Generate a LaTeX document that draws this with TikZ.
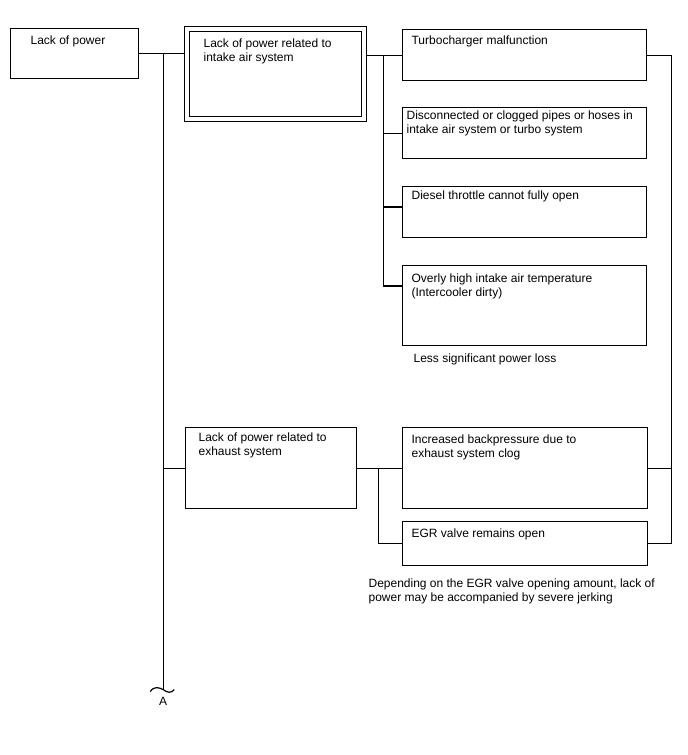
\documentclass[tikz,border=0pt]{standalone}
\usepackage{fontspec}
\setmainfont{Liberation Sans}
\usetikzlibrary{calc}
\begin{document}
\begin{tikzpicture}[x=1bp,y=-1bp,line width=1.2bp,
  box/.style={draw,rectangle,inner sep=0pt,anchor=north west},
  txt/.style={inner sep=0pt,anchor=north west,align=left,font=\fontsize{12bp}{14bp}\selectfont}]
\useasboundingbox (0,0) rectangle (688,755);
% boxes
\node[box,minimum width=128bp,minimum height=50bp] (b0) at (10,28) {};
\node[box,minimum width=182bp,minimum height=95bp] (b1o) at (184,26) {};
\node[box,minimum width=172bp,minimum height=85bp] (b1i) at (189,31) {};
\node[box,minimum width=244bp,minimum height=51bp] (turbo) at (402,29) {};
\node[box,minimum width=244bp,minimum height=51bp] (disc) at (402,107) {};
\node[box,minimum width=244bp,minimum height=51bp] (diesel) at (402,186) {};
\node[box,minimum width=244bp,minimum height=80bp] (over) at (402,265) {};
\node[box,minimum width=171bp,minimum height=81bp] (exh) at (185,427) {};
\node[box,minimum width=245bp,minimum height=81bp] (back) at (402,427) {};
\node[box,minimum width=245bp,minimum height=44bp] (egr) at (402,521) {};
% texts
\node[txt] (t0) at (30,35) {Lack of power};
\node[txt] (t1) at (203,38) {Lack of power related to\\intake air system};
\node[txt] (tturbo) at (411,35) {Turbocharger malfunction};
\node[txt] (tdisc) at (406,110) {Disconnected or clogged pipes or hoses in\\intake air system or turbo system};
\node[txt] (tdiesel) at (411,190) {Diesel throttle cannot fully open};
\node[txt] (tover) at (411,273) {Overly high intake air temperature\\(Intercooler dirty)};
\node[txt] (n1) at (413,353) {Less significant power loss};
\node[txt] (texh) at (198,432) {Lack of power related to\\exhaust system};
\node[txt] (tback) at (411,434) {Increased backpressure due to\\exhaust system clog};
\node[txt] (tegr) at (411,528) {EGR valve remains open};
\node[txt] (n2) at (368,578) {Depending on the EGR valve opening amount, lack of\\power may be accompanied by severe jerking};
% coordinates
\coordinate (j0) at ([xshift=24bp]b0.east);
\coordinate (tend) at ($(j0)+(0,636)$);
\coordinate (j1) at ([xshift=16bp]turbo.west -| b1o.east);
\coordinate (dieselj) at ([yshift=-21bp]diesel.north west);
\coordinate (overj) at ([yshift=-21bp]over.north west);
\coordinate (r1) at ([xshift=24bp]turbo.east);
\coordinate (j2) at ([xshift=21bp]exh.east);
% trunk
\draw (b0.east) -- (b0.east -| b1o.west);
\draw (j0) -- (tend);
\draw ($(tend)+(-13,2)$) .. controls ($(tend)+(-9,-4)$) and ($(tend)+(-4,-2)$) .. (tend)
      .. controls ($(tend)+(4,3)$) and ($(tend)+(8,4)$) .. ($(tend)+(11,0)$);
\node[txt,anchor=north] (A) at ([yshift=-7bp]tend) {A};
% intake branch
\draw (turbo.west -| b1o.east) -- (turbo.west);
\draw (j1) -- (j1 |- overj) -- (overj);
\draw (j1 |- disc.west) -- (disc.west);
\draw (j1 |- dieselj) -- (dieselj);
% right side
\draw (turbo.east) -- (r1) -- (r1 |- egr.east) -- (egr.east);
\draw (back.east) -- (back.east -| r1);
% exhaust branch
\draw (j0 |- exh.west) -- (exh.west);
\draw (exh.east) -- (exh.east -| back.west);
\draw (j2) -- (j2 |- egr.west) -- (egr.west);
\end{tikzpicture}
\end{document}
